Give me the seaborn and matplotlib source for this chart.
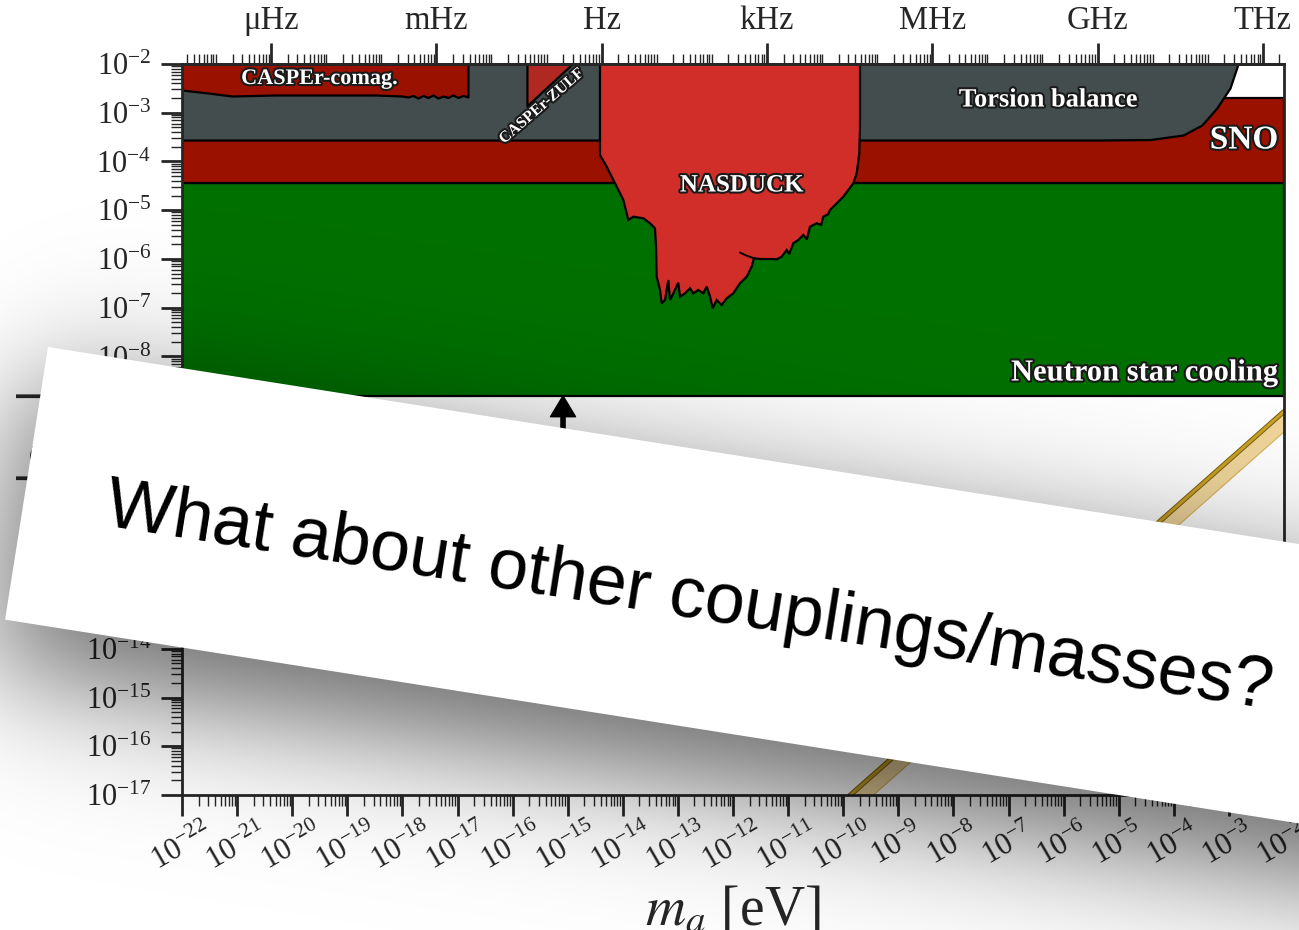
import numpy as np
import matplotlib
matplotlib.use("Agg")
import matplotlib.pyplot as plt
import matplotlib.ticker as mticker
import matplotlib.patheffects as pe
from matplotlib.patches import Polygon
import seaborn as sns

# ---- limits, all in log10 (mass in eV, coupling |g_an|) ----
ns_cooling_log_g = -8.81
sno_log_g = [-4.44, -2.70]

torsion_log_m = [-22.0, -5.34, -4.43, -3.83, -3.49, -3.22, -2.98, -2.835]
torsion_log_g = [-3.56, -3.56, -3.55, -3.457, -3.252, -2.903, -2.493, -2.0]

comag_log_m = [-22.0, -21.528, -21.093, -20.312, -18.497, -18.007, -17.898, -17.808,
               -17.717, -17.626, -17.535, -17.445, -17.354, -17.263, -17.172, -17.082,
               -16.991, -16.900, -16.810]
comag_log_g = [-2.534, -2.595, -2.657, -2.636, -2.636, -2.657, -2.677, -2.646,
               -2.698, -2.646, -2.687, -2.636, -2.698, -2.657, -2.687, -2.636,
               -2.687, -2.646, -2.677]

zulf_log_m = [-15.74, -14.92]
zulf_log_g = [-2.86, -2.0]

nasduck_log_m = [-14.414, -14.414, -14.292, -14.172, -14.051, -13.991, -13.929, -13.900,
                 -13.809, -13.628, -13.506, -13.416, -13.397, -13.385, -13.325, -13.294,
                 -13.234, -13.174, -13.143, -13.083, -12.993, -12.962, -12.871, -12.780,
                 -12.720, -12.630, -12.539, -12.477, -12.417, -12.368, -12.296, -12.205,
                 -12.114, -11.995, -11.873, -11.751, -11.661, -11.619, -11.50, -11.298,
                 -11.207, -11.116, -11.025, -10.98, -10.906, -10.815, -10.724, -10.66,
                 -10.603, -10.481, -10.40, -10.361, -10.27, -10.240, -10.118, -9.998,
                 -9.907, -9.817, -9.755, -9.708, -9.695, -9.695]
nasduck_log_g = [-2.0, -3.867, -4.108, -4.380, -4.653, -4.791, -5.064, -5.201,
                 -5.134, -5.166, -5.269, -5.372, -5.749, -6.365, -6.638, -6.911,
                 -6.843, -6.433, -6.843, -6.706, -6.488, -6.775, -6.706, -6.603,
                 -6.706, -6.638, -6.706, -6.570, -6.775, -7.013, -6.843, -6.946,
                 -6.808, -6.706, -6.500, -6.365, -6.160, -5.987, -6.002, -6.002,
                 -6.008, -5.954, -5.817, -5.90, -5.679, -5.612, -5.509, -5.60,
                 -5.339, -5.269, -5.30, -5.134, -5.08, -4.996, -4.859, -4.723,
                 -4.586, -4.448, -4.243, -3.833, -3.287, -2.0]
nasduck_notch_log_m = [-11.873, -11.76, -11.619]
nasduck_notch_log_g = [-5.869, -5.93, -5.987]

qcd_log_m = [-10.5, -2.0]
qcd_log_g = [-17.63, -9.13]
qcd_band_lo_log_g = [-18.03, -9.53]

arrow_log_m = -15.085

freq_ticks = [1e-6, 1e-3, 1e0, 1e3, 1e6, 1e9, 1e12]
freq_labels = ["\u03bcHz", "mHz", "Hz", "kHz", "MHz", "GHz", "THz"]

c_green = "#007000"
c_grey = "#434d4d"
c_darkred = "#9b1100"
c_zulf = "#b02822"
c_nasduck = "#d12e29"

sns.set_style("ticks")
plt.rcParams.update({
    "font.family": "serif",
    "font.serif": ["Liberation Serif", "DejaVu Serif"],
    "mathtext.fontset": "stix",
})

W, H = 1299, 930
fig = plt.figure(figsize=(W / 100, H / 100), dpi=100)
ax = fig.add_axes([182 / W, 1 - 795 / H, (1284 - 182) / W, (795 - 64) / H])
ax.set_xscale("log")
ax.set_yscale("log")
ax.set_xlim(1e-22, 1e-2)
ax.set_ylim(1e-17, 1e-2)

p = lambda a: 10 ** np.asarray(a, dtype=float)
edge = dict(edgecolor="black", linewidth=1.6)

ax.fill_between([1e-22, 1e-2], 10 ** ns_cooling_log_g, 10 ** sno_log_g[0], facecolor=c_green, zorder=1, **edge)
ax.fill_between([1e-22, 1e-2], 10 ** sno_log_g[0], 10 ** sno_log_g[1], facecolor=c_darkred, zorder=2, **edge)
ax.fill_between(p(torsion_log_m), p(torsion_log_g), 1e-2, facecolor=c_grey, zorder=3, **edge)
ax.fill_between(p(comag_log_m), p(comag_log_g), 1e-2, facecolor=c_darkred, zorder=4, **edge)
ax.fill_between(p(zulf_log_m), p(zulf_log_g), 1e-2, facecolor=c_zulf, zorder=4, **edge)
ax.fill(p(nasduck_log_m), p(nasduck_log_g), facecolor=c_nasduck, zorder=5, **edge)
ax.plot(p(nasduck_notch_log_m), p(nasduck_notch_log_g), color="black", lw=1.4, zorder=6)

# QCD axion band
ax.fill_between(p(qcd_log_m), p(qcd_band_lo_log_g), p(qcd_log_g), facecolor="#f0d69c",
                edgecolor="#d9b25a", lw=0.8, zorder=2)
sns.lineplot(x=p(qcd_log_m), y=p(qcd_log_g), ax=ax, color="#c9a125", lw=2.2, zorder=3,
             path_effects=[pe.withStroke(linewidth=3.6, foreground="#7a5e10")])

ax.annotate("", xy=(10 ** arrow_log_m, 10 ** ns_cooling_log_g),
            xytext=(10 ** arrow_log_m, 10 ** -10.8),
            arrowprops=dict(facecolor="black", edgecolor="black", width=3,
                            headwidth=18, headlength=15, shrink=0), zorder=7)

lab = dict(color="white", fontweight="bold", zorder=8,
           path_effects=[pe.withStroke(linewidth=3, foreground="#1a1a1a")])
ax.text(10 ** -19.5, 10 ** -2.308, "CASPEr-comag.", fontsize=16, ha="center", va="center", **lab)
ax.text(10 ** -15.47, 10 ** -2.862, "CASPEr-ZULF", fontsize=11.5, rotation=41,
        ha="center", va="center", **lab)
ax.text(10 ** -6.28, 10 ** -2.739, "Torsion balance", fontsize=19, ha="center", va="center", **lab)
ax.text(10 ** -2.726, 10 ** -3.56, "SNO", fontsize=24, ha="center", va="center", **lab)
ax.text(10 ** -11.84, 10 ** -4.483, "NASDUCK", fontsize=18, ha="center", va="center", **lab)
ax.text(10 ** -2.109, 10 ** -8.341, "Neutron star cooling", fontsize=22, ha="right", va="center", **lab)

for s in ax.spines.values():
    s.set_linewidth(2)
    s.set_zorder(9)
ax.xaxis.set_major_locator(mticker.LogLocator(base=10, numticks=40))
ax.yaxis.set_major_locator(mticker.LogLocator(base=10, numticks=40))
ax.xaxis.set_minor_locator(mticker.LogLocator(base=10, subs=np.arange(2, 10), numticks=400))
ax.yaxis.set_minor_locator(mticker.LogLocator(base=10, subs=np.arange(2, 10), numticks=400))
ax.xaxis.set_minor_formatter(mticker.NullFormatter())
ax.yaxis.set_minor_formatter(mticker.NullFormatter())
ax.tick_params(which="major", direction="out", length=15, width=2, labelsize=22,
               top=False, right=False)
ax.tick_params(which="minor", direction="out", length=8, width=1, top=False, right=False)
ax.tick_params(axis="x", which="major", labelrotation=30, pad=2)
ax.tick_params(axis="y", which="major", pad=7)

h_eVs = 4.135667e-15
secax = ax.secondary_xaxis("top", functions=(lambda m: m / h_eVs, lambda f: f * h_eVs))
secax.set_xticks(freq_ticks, labels=freq_labels)
secax.xaxis.set_minor_locator(mticker.LogLocator(base=10, subs=np.arange(1, 10), numticks=400))
secax.xaxis.set_minor_formatter(mticker.NullFormatter())
secax.tick_params(which="major", direction="out", length=15, width=2, labelsize=23.5, pad=5)
secax.tick_params(which="minor", direction="out", length=7, width=1)
secax.spines["top"].set_linewidth(2)

ax.set_xlabel(r"$m_a$ [eV]", fontsize=40)
ax.xaxis.set_label_coords(0.5, -0.123)
ax.set_ylabel(r"$|g_{an}|$", fontsize=41)
ax.yaxis.set_label_coords(-0.102, 0.489)

# ---- tilted banner with soft shadow on top of everything ----
ov = fig.add_axes([0, 0, 1, 1], zorder=20)
ov.patch.set_alpha(0)
ov.axis("off")

theta = np.deg2rad(8.95)
cs, sn = np.cos(theta), np.sin(theta)
x0, y0, band_h = 48.0, 347.0, 276.0
yy, xx = np.mgrid[0:H, 0:W] + 0.5
u = (xx - x0) * cs + (yy - y0) * sn
v = -(xx - x0) * sn + (yy - y0) * cs
soft = lambda z: 1.0 / (1.0 + np.exp(-1.702 * z))
sig = 66.0
dark = 0.6 * (soft((v - 34) / sig) - soft((v - band_h - 51) / sig)) * soft((u + 10) / sig)
rgba = np.zeros((H, W, 4))
rgba[..., 3] = np.clip(dark, 0, 1)
ov.imshow(rgba, extent=(0, W, H, 0), aspect="auto", interpolation="bilinear", zorder=1)

L = 1600
tl = (x0, y0)
tr = (x0 + L * cs, y0 + L * sn)
br = (tr[0] - band_h * sn, tr[1] + band_h * cs)
bl = (x0 - band_h * sn, y0 + band_h * cs)
ov.add_patch(Polygon([tl, tr, br, bl], closed=True, facecolor="white", edgecolor="none", zorder=2))
ov.text(686, 617, "What about other couplings/masses?", rotation=-8.95, rotation_mode="anchor",
        ha="center", va="baseline", fontsize=51.7, family="Liberation Sans", color="black", zorder=3)
ov.set_xlim(0, W)
ov.set_ylim(H, 0)

fig.savefig("out.png", dpi=100)
